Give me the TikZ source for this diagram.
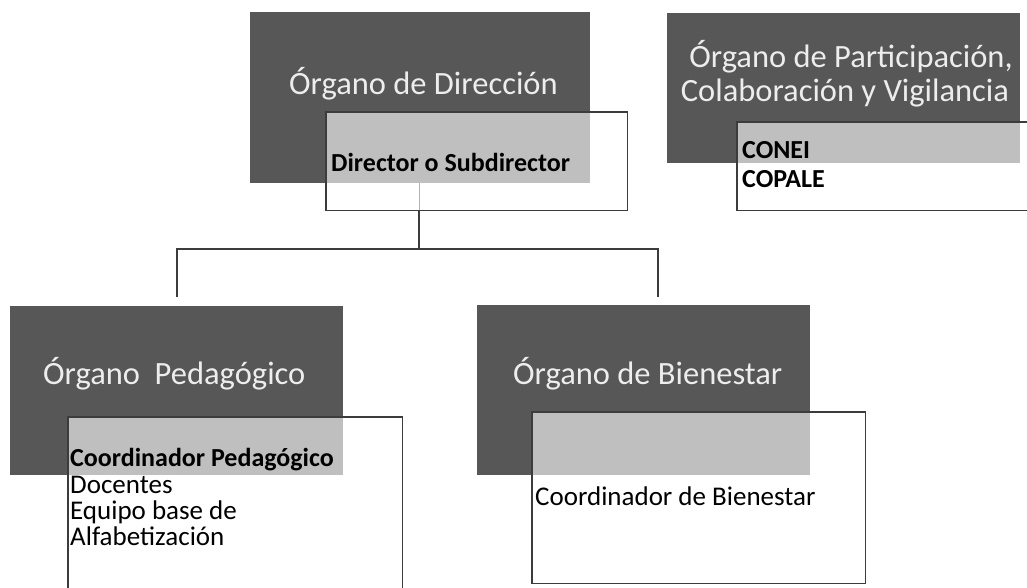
\documentclass[tikz,border=0pt]{standalone}
\usepackage{fontspec}
\setmainfont{Carlito}
\definecolor{darkfill}{HTML}{575757}
\definecolor{lightfill}{HTML}{BFBFBF}
\definecolor{edge}{HTML}{3C3C3C}
\definecolor{titletext}{HTML}{EDEDED}
\begin{document}
\begin{tikzpicture}[x=1pt,y=-1pt,
  darkbox/.style={fill=darkfill,draw=none,anchor=north west,inner sep=0pt},
  whitebox/.style={fill=white,draw=none,anchor=north west,inner sep=0pt},
  frame/.style={draw=edge,line width=1.8pt},
  overlap/.style={fill=lightfill},
  title/.style={text=titletext,font=\fontsize{32.5}{36}\selectfont,anchor=base west,inner sep=0pt},
  title2/.style={text=titletext,font=\fontsize{32.5}{36}\selectfont,anchor=base,inner sep=0pt},
  body/.style={text=black,font=\fontsize{27}{31}\selectfont,anchor=base west,inner sep=0pt},
  bodyb/.style={text=black,font=\bfseries\fontsize{26}{30}\selectfont,anchor=base west,inner sep=0pt},
  conn/.style={draw=edge,line width=2pt},
  inner/.style={draw=lightfill!80!gray,line width=0.8pt}]
\useasboundingbox (0,0) rectangle (1027,587);
\begin{scope}
\clip (0,0) rectangle (1027,587);
% ---- Organo de Direccion
\node[darkbox,minimum width=340pt,minimum height=171pt] (dir) at (250,12) {};
\node[whitebox,minimum width=301pt,minimum height=98pt] (dirw) at (326,112) {};
\fill[overlap] (dirw.north west) rectangle (dir.south east);
\draw[frame] (dirw.north west) rectangle (dirw.south east);
% ---- Organo de Participacion
\node[darkbox,minimum width=353pt,minimum height=150pt] (par) at (667,13) {};
\node[whitebox,minimum width=330pt,minimum height=88pt] (parw) at (737,122) {};
\fill[overlap] (parw.north west) rectangle (par.south east);
\draw[frame] (parw.north west) rectangle (parw.south east);
% ---- Organo Pedagogico
\node[darkbox,minimum width=333pt,minimum height=169pt] (ped) at (10,306) {};
\node[whitebox,minimum width=334pt,minimum height=200pt] (pedw) at (68,417) {};
\fill[overlap] (pedw.north west) rectangle (ped.south east);
\draw[frame] (pedw.north west) rectangle (pedw.south east);
% ---- Organo de Bienestar
\node[darkbox,minimum width=333pt,minimum height=170pt] (bie) at (477,305) {};
\node[whitebox,minimum width=333pt,minimum height=171pt] (biew) at (532,412) {};
\fill[overlap] (biew.north west) rectangle (bie.south east);
\draw[frame] (biew.north west) rectangle (biew.south east);
\end{scope}
% ---- connectors
\coordinate (jn) at (419,249);
\coordinate (lend) at (177,297);
\coordinate (rend) at (658,297);
\draw[inner] (419,183) -- (dirw.south -| jn);
\draw[conn] (dirw.south -| jn) -- (jn);
\draw[conn] (lend) |- (jn) -| (rend);
% ---- titles
\node[title] (tdir) at (289,94) {Órgano de Dirección};
\node[title2] (tpar1) at (851,67) {Órgano de Participación,};
\node[title2] (tpar2) at (845,101) {Colaboración y Vigilancia};
\node[title] (tped) at (43,384) {Órgano\ \ Pedagógico};
\node[title] (tbie) at (513,384) {Órgano de Bienestar};
% ---- contents
\node[bodyb] (dsub) at (331,171) {Director o Subdirector};
\node[bodyb] (conei) at (742,158) {CONEI};
\node[bodyb] (copale) at (742,187) {COPALE};
\node[bodyb] (cped) at (70,466) {Coordinador Pedagógico};
\node[body] (doc) at (70,493) {Docentes};
\node[body] (eq) at (70,519) {Equipo base de};
\node[body] (alf) at (70,545) {Alfabetización};
\node[body] (cbie) at (535,505) {Coordinador de Bienestar};
\end{tikzpicture}
\end{document}
